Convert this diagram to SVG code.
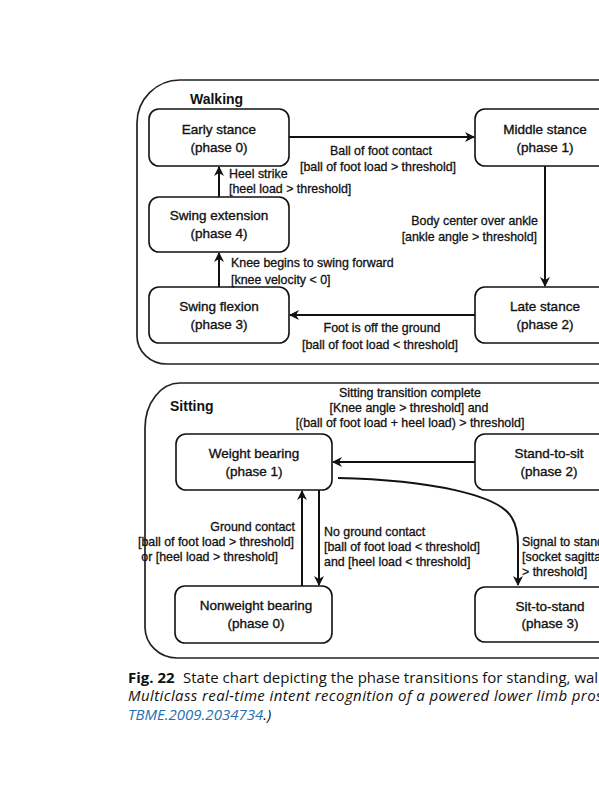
<svg xmlns="http://www.w3.org/2000/svg" width="599" height="800" viewBox="0 0 599 800">
<defs>
<style>
.frame{fill:none;stroke:#222;stroke-width:1.7}
.box{fill:#fff;stroke:#111;stroke-width:1.6}
.t{font-family:"Liberation Sans",Arial,sans-serif;font-size:13.5px;fill:#111;stroke:#111;stroke-width:0.35;text-anchor:middle}
.lb{font-family:"Liberation Sans",Arial,sans-serif;font-size:12.4px;fill:#111;stroke:#111;stroke-width:0.3}
.ttl{font-family:"Liberation Sans",Arial,sans-serif;font-size:14px;font-weight:bold;fill:#111}
.edge{fill:none;stroke:#111;stroke-width:2;marker-end:url(#ah)}
.cap{font-family:"Open Sans","Noto Sans",sans-serif;font-size:15px;fill:#111}
</style>
<marker id="ah" viewBox="0 0 10 10" refX="9" refY="5" markerWidth="5" markerHeight="5" orient="auto" markerUnits="strokeWidth">
<path d="M0,0 L10,5 L0,10 L3,5 z" fill="#111"/>
</marker>
</defs>
<rect width="599" height="800" fill="#fff"/>

<g id="walking">
<path class="frame" d="M640 80 H180 A43 43 0 0 0 137 123 V336 A30 28 0 0 0 167 364 H640"/>
<text class="ttl" x="190" y="104">Walking</text>
</g>
<g id="sitting">
<path class="frame" d="M640 383 H180 A35 45 0 0 0 145 428 V627 A32 31 0 0 0 177 658 H640"/>
<text class="ttl" x="170" y="411">Sitting</text>
</g>

<g id="early-stance">
<rect class="box" x="149" y="109" width="140" height="57" rx="10"/>
<text class="t" x="219" y="134">Early stance</text>
<text class="t" x="219" y="152">(phase 0)</text>
</g>
<g id="middle-stance">
<rect class="box" x="475" y="109" width="140" height="57" rx="10"/>
<text class="t" x="545" y="134">Middle stance</text>
<text class="t" x="545" y="152">(phase 1)</text>
</g>
<g id="swing-extension">
<rect class="box" x="149" y="197" width="140" height="55" rx="10"/>
<text class="t" x="219" y="220">Swing extension</text>
<text class="t" x="219" y="238">(phase 4)</text>
</g>
<g id="swing-flexion">
<rect class="box" x="149" y="287" width="140" height="56" rx="10"/>
<text class="t" x="219" y="311">Swing flexion</text>
<text class="t" x="219" y="329">(phase 3)</text>
</g>
<g id="late-stance">
<rect class="box" x="475" y="287" width="140" height="56" rx="10"/>
<text class="t" x="545" y="311">Late stance</text>
<text class="t" x="545" y="329">(phase 2)</text>
</g>

<g id="weight-bearing">
<rect class="box" x="176" y="434" width="156" height="56" rx="10"/>
<text class="t" x="254" y="458">Weight bearing</text>
<text class="t" x="254" y="476">(phase 1)</text>
</g>
<g id="stand-to-sit">
<rect class="box" x="475" y="434" width="148" height="56" rx="10"/>
<text class="t" x="549" y="458">Stand-to-sit</text>
<text class="t" x="549" y="476">(phase 2)</text>
</g>
<g id="nonweight-bearing">
<rect class="box" x="175" y="586" width="157" height="57" rx="10"/>
<text class="t" x="256" y="610">Nonweight bearing</text>
<text class="t" x="256" y="628">(phase 0)</text>
</g>
<g id="sit-to-stand">
<rect class="box" x="475" y="587" width="148" height="55" rx="10"/>
<text class="t" x="550" y="611">Sit-to-stand</text>
<text class="t" x="550" y="628">(phase 3)</text>
</g>

<g id="connectors">
<path class="edge" d="M289 137 H474"/>
<path class="edge" d="M545 166 V286"/>
<path class="edge" d="M475 315 H290"/>
<path class="edge" d="M219 287 V253"/>
<path class="edge" d="M219 197 V167"/>
<path class="edge" d="M475 462 H333"/>
<path class="edge" d="M338 478 C430 480 500 495 512 518 Q518 528 518 545 V585"/>
<path class="edge" d="M302 586 V491"/>
<path class="edge" d="M319 490 V585"/>
</g>

<g id="labels">
<text class="lb" x="381" y="155" text-anchor="middle">Ball of foot contact</text>
<text class="lb" x="378" y="171" text-anchor="middle">[ball of foot load &gt; threshold]</text>
<text class="lb" x="229" y="178">Heel strike</text>
<text class="lb" x="229" y="193">[heel load &gt; threshold]</text>
<text class="lb" x="538" y="225" text-anchor="end">Body center over ankle</text>
<text class="lb" x="537" y="241" text-anchor="end">[ankle angle &gt; threshold]</text>
<text class="lb" x="231" y="267">Knee begins to swing forward</text>
<text class="lb" x="231" y="284">[knee velocity &lt; 0]</text>
<text class="lb" x="382" y="332" text-anchor="middle">Foot is off the ground</text>
<text class="lb" x="380" y="349" text-anchor="middle">[ball of foot load &lt; threshold]</text>
<text class="lb" x="410" y="397" text-anchor="middle">Sitting transition complete</text>
<text class="lb" x="409" y="412" text-anchor="middle">[Knee angle &gt; threshold] and</text>
<text class="lb" x="410" y="427" text-anchor="middle">[(ball of foot load + heel load) &gt; threshold]</text>
<text class="lb" x="295" y="531" text-anchor="end">Ground contact</text>
<text class="lb" x="294" y="546" text-anchor="end">[ball of foot load &gt; threshold]</text>
<text class="lb" x="278" y="561" text-anchor="end">or [heel load &gt; threshold]</text>
<text class="lb" x="324" y="536">No ground contact</text>
<text class="lb" x="324" y="551">[ball of foot load &lt; threshold]</text>
<text class="lb" x="324" y="566">and [heel load &lt; threshold]</text>
<text class="lb" x="522" y="546">Signal to stand</text>
<text class="lb" x="522" y="561">[socket sagittal</text>
<text class="lb" x="522" y="576">&gt; threshold]</text>
</g>

<g id="caption">
<text class="cap" x="128" y="683"><tspan font-weight="bold">Fig. 22</tspan><tspan x="183">State chart depicting the phase transitions for standing, walking</tspan></text>
<text class="cap" x="128" y="701" font-style="italic" letter-spacing="0.4">Multiclass real-time intent recognition of a powered lower limb prosthesis</text>
<text class="cap" x="128" y="720" font-style="italic"><tspan fill="#1f6fb2">TBME.2009.2034734</tspan>.)</text>
</g>
</svg>
